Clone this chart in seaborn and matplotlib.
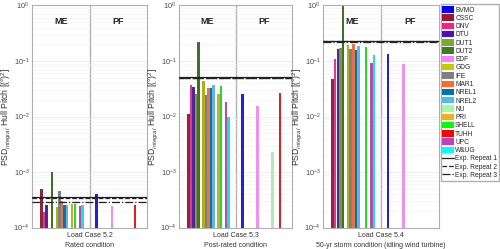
import numpy as np
import pandas as pd
import matplotlib
matplotlib.use("Agg")
import matplotlib.pyplot as plt
from matplotlib.patches import Patch
from matplotlib.lines import Line2D
import seaborn as sns

nan = np.nan

participants = ["BVMO", "CSSC", "DNV", "DTU", "DUT1", "DUT2", "EDF", "GDG", "IFE",
                "MAR1", "NREL1", "NREL2", "NU", "PRI", "SHELL", "TUHH", "UPC", "W&UG"]
colors = ["#0000FF", "#A2142F", "#F5208E", "#5010B0", "#77AC30", "#3F7A1F", "#FF80FF",
          "#C8C800", "#808080", "#FF6929", "#0072BD", "#4DBEEE", "#A8F5A8", "#EDB120",
          "#00FF00", "#FF0000", "#BF40BF", "#00FFFF"]

groups = ["ME", "PF"]

# Load case 5.2 - rated
lc52_me = [nan, 5.0e-4, 1.9e-4, 2.5e-4, nan, 1.0e-3, nan, 2.33e-4, 4.5e-4,
           2.96e-4, 2.5e-4, 2.5e-4, nan, 2.69e-4, 2.69e-4, nan, 2.43e-4, 2.5e-4]
lc52_pf = [3.96e-4, nan, nan, nan, nan, nan, 2.4e-4, nan, nan,
           nan, nan, nan, nan, nan, nan, 2.6e-4, nan, nan]
lc52_exp = [3.54e-4, 3.4e-4, 2.87e-4]

# Load case 5.3 - post-rated
lc53_me = [nan, 0.0109, 0.0367, 0.0334, 0.0252, 0.216, nan, 0.0434, 0.0242,
           0.0327, 0.0327, 0.0367, nan, 0.0252, 0.0362, nan, 0.0181, 0.0097]
lc53_pf = [0.0252, nan, nan, nan, nan, nan, 0.0153, nan, nan,
           nan, nan, nan, 0.00227, nan, nan, 0.026, nan, nan]
lc53_exp = [0.051, 0.050, 0.049]

# Load case 5.4 - 50-yr storm
lc54_me = [nan, 0.047, 0.107, 0.164, 0.169, 1.5, nan, 0.194, 0.162,
           0.204, 0.157, 0.186, nan, nan, 0.176, nan, 0.0905, 0.128]
lc54_pf = [0.131, nan, nan, nan, nan, nan, 0.088, nan, nan,
           nan, nan, nan, nan, nan, nan, nan, nan, nan]
lc54_exp = [0.234, 0.226, 0.222]

case_labels = ["Load Case 5.2\nRated condition",
               "Load Case 5.3\nPost-rated condition",
               "Load Case 5.4\n50-yr storm condition (idling wind turbine)"]

exp_labels = ["Exp. Repeat 1", "Exp. Repeat 2", "Exp. Repeat 3"]
exp_styles = ["-", "--", "-."]

cases = [(lc52_me, lc52_pf, lc52_exp),
         (lc53_me, lc53_pf, lc53_exp),
         (lc54_me, lc54_pf, lc54_exp)]

sns.set_style("white")
plt.rcParams["font.family"] = ["Liberation Sans", "DejaVu Sans"]
plt.rcParams["mathtext.fontset"] = "custom"
plt.rcParams["mathtext.rm"] = "Liberation Sans"
plt.rcParams["mathtext.it"] = "Liberation Sans:italic"

fig = plt.figure(figsize=(5.0, 2.49), dpi=100)
positions = [[0.064, 0.086, 0.230, 0.892],
             [0.358, 0.086, 0.226, 0.892],
             [0.646, 0.086, 0.232, 0.892]]

palette = dict(zip(participants, colors))

for pos, (me, pf, exp), xlab in zip(positions, cases, case_labels):
    ax = fig.add_axes(pos)
    df = pd.DataFrame({
        "group": ["ME"] * len(participants) + ["PF"] * len(participants),
        "participant": participants * 2,
        "value": list(me) + list(pf),
    }).dropna()
    sns.barplot(data=df, x="group", y="value", hue="participant",
                hue_order=participants, order=groups, palette=palette,
                width=0.8, gap=0.05, linewidth=0, legend=False, ax=ax)
    ax.set_yscale("log")
    ax.set_ylim(1e-4, 1)
    ax.set_xlim(-0.5, 1.5)
    for val, ls in zip(exp, exp_styles):
        ax.axhline(val, color="#222222", lw=0.9, ls=ls, zorder=5)
    ax.axvline(0.5, color="#b0b0b0", lw=1.0, zorder=0)
    for i, g in enumerate(groups):
        ax.text(i, 0.93, g, transform=ax.get_xaxis_transform(), ha="center",
                va="center", fontsize=6.5, fontweight="bold")
    ax.set_xticks([])
    ax.set_xlabel(xlab, fontsize=5, color="#333333", labelpad=3, linespacing=1.6)
    ax.set_ylabel(r"PSD$_{integral}$ Hull Pitch [(°)$^2$]", fontsize=6.2,
                  color="#333333", labelpad=0)
    ax.tick_params(axis="y", which="both", direction="in", labelsize=5.2,
                   colors="#444444", length=2, width=0.5, pad=2)
    ax.tick_params(axis="y", which="minor", length=1.2)
    ax.grid(True, axis="y", which="major", color="#e6e6e6", lw=0.5)
    ax.grid(True, axis="y", which="minor", color="#f0f0f0", lw=0.4)
    ax.set_axisbelow(True)
    for s in ax.spines.values():
        s.set_color("#b0b0b0")
        s.set_linewidth(0.8)

handles = [Patch(facecolor=c, edgecolor="none", label=p)
           for p, c in zip(participants, colors)]
handles += [Line2D([0], [0], color="#222222", lw=0.9, ls=ls, label=l)
            for l, ls in zip(exp_labels, exp_styles)]
fig.legend(handles=handles, loc="upper left", bbox_to_anchor=(0.881, 0.982),
           fontsize=4.8, frameon=True, fancybox=False, edgecolor="#b0b0b0",
           framealpha=1, handlelength=1.7, handleheight=1.1, handletextpad=0.25,
           labelspacing=0.12, borderpad=0.25, borderaxespad=0)

fig.savefig("out.png", dpi=100)
